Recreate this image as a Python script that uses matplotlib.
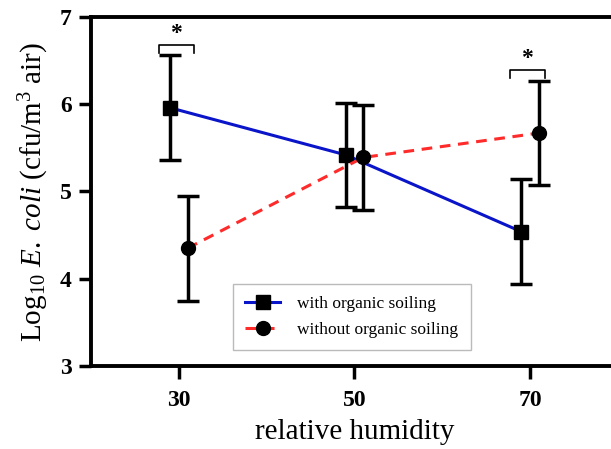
import matplotlib
matplotlib.use("Agg")
import matplotlib.pyplot as plt

plt.rcParams.update({
    "font.family": "Liberation Serif",
    "mathtext.fontset": "custom",
    "mathtext.rm": "Liberation Serif",
    "mathtext.it": "Liberation Serif:italic",
    "mathtext.bf": "Liberation Serif:bold",
})

humidity = [30, 50, 70]
with_soil = [5.96, 5.42, 4.54]
with_soil_err = [0.60, 0.60, 0.60]
without_soil = [4.35, 5.39, 5.67]
without_soil_err = [0.60, 0.60, 0.60]
labels = ["with organic soiling", "without organic soiling"]
sig_at = [30, 70]
sig_y = [6.68, 6.39]

offset = 1.0
x_w = [h - offset for h in humidity]
x_wo = [h + offset for h in humidity]

fig = plt.figure(figsize=(6.11, 4.49), dpi=100)
ax = fig.add_axes([0.149, 0.185, 0.862, 0.777])

ax.errorbar(x_w, with_soil, yerr=with_soil_err, fmt="none", ecolor="black",
            elinewidth=2.5, capsize=8, capthick=2.5, zorder=3)
ax.errorbar(x_wo, without_soil, yerr=without_soil_err, fmt="none", ecolor="black",
            elinewidth=2.5, capsize=8, capthick=2.5, zorder=3)
ax.plot(x_w, with_soil, color="#0a14c8", lw=2.2, marker="s", ms=10,
        mfc="black", mec="black", label=labels[0], zorder=4)
ax.plot(x_wo, without_soil, color="#ff2a2a", lw=2.2, ls=(0, (3.5, 2.5)), marker="o",
        ms=10, mfc="black", mec="black", label=labels[1], zorder=4)

# significance brackets
for xc, yb in zip(sig_at, sig_y):
    ax.plot([xc - 2.3, xc - 2.3, xc + 1.7, xc + 1.7],
            [yb - 0.09, yb, yb, yb - 0.09], color="black", lw=1.2)
    ax.text(xc - 0.3, yb + 0.01, "*", ha="center", va="bottom",
            fontsize=17, fontweight="bold")

ax.set_xlim(20, 80)
ax.set_ylim(3, 7)
ax.set_xticks(humidity)
ax.set_yticks([3, 4, 5, 6, 7])
for lab in ax.get_xticklabels() + ax.get_yticklabels():
    lab.set_fontweight("bold")
ax.tick_params(labelsize=17, width=2.5, length=9, direction="out")
ax.tick_params(axis="x", pad=8)
ax.tick_params(axis="y", pad=5)
for s in ["left", "bottom", "top"]:
    ax.spines[s].set_linewidth(2.8)
ax.spines["right"].set_visible(False)

ax.set_xlabel("relative humidity", fontsize=21, labelpad=6)
ax.set_ylabel(r"Log$_{10}$ $\it{E.\ coli}$ (cfu/m$^3$ air)", fontsize=21, labelpad=6)

leg = ax.legend(loc="lower left", bbox_to_anchor=(0.27, 0.045), fontsize=12.5,
                frameon=True, fancybox=False, edgecolor="#aaaaaa",
                handlelength=2.0, borderpad=0.7, labelspacing=0.55, handletextpad=1.0,
                borderaxespad=0)
leg.get_frame().set_linewidth(1.0)

fig.savefig("out.png", dpi=100)
